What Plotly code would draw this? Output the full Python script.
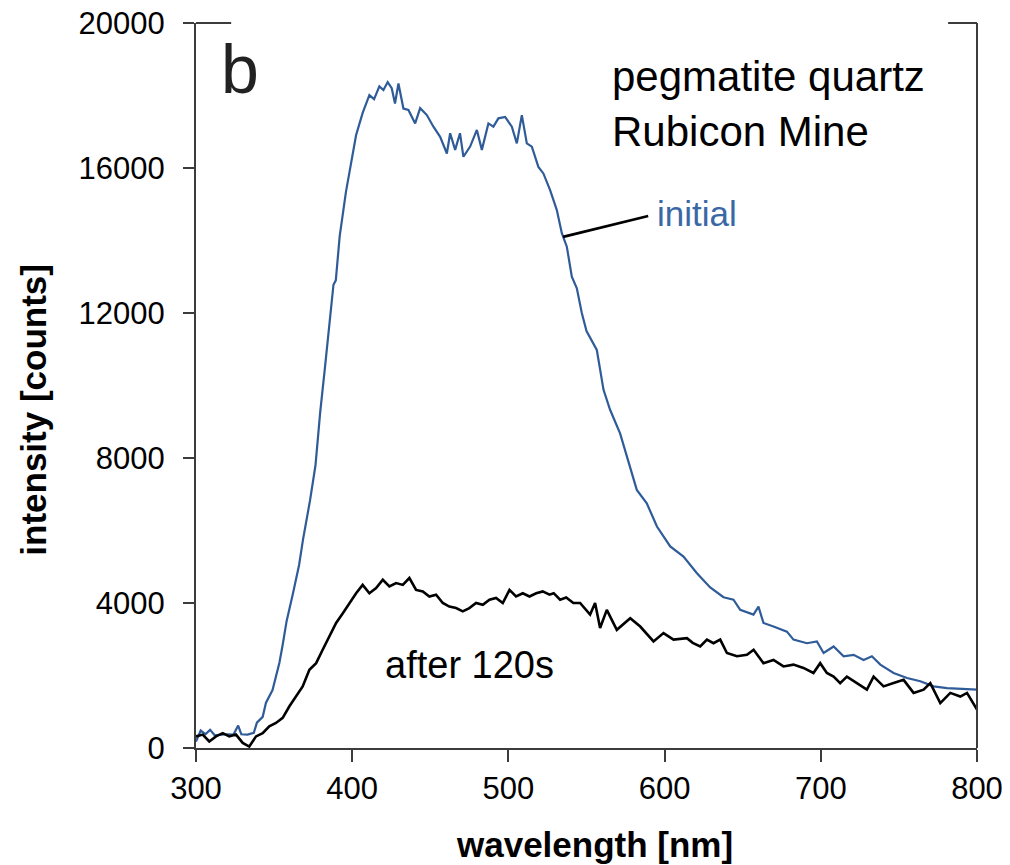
import plotly.graph_objects as go

# ---- data ----
wl_initial = [300, 303, 306, 309, 312, 316, 320, 324, 327, 329, 333, 337, 339, 342.7, 344.8, 349,
              353.4, 355.5, 358, 362, 366, 368.5, 373, 376.5, 379.5, 382.5, 386, 388, 389.5, 392,
              396, 399.5, 402.5, 406.7, 411, 414, 417.4, 420, 422.7, 425.3, 427.4, 429.6, 432.8, 436,
              440.3, 443.5, 447.8, 452, 456.3, 460.6, 462.7, 465.9, 469, 471.2, 475.5, 479.8, 483,
              487.2, 490.4, 493.6, 497.9, 502.2, 505.4, 508.6, 511.8, 515, 519.2, 522.4, 526.7, 531,
              534.2, 537.4, 540.6, 543.8, 547, 550, 556.6, 560.9, 565.1, 571.5, 575.8, 582.2, 588.6,
              595.1, 603.6, 612.1, 620.7, 629.2, 637.7, 644.1, 648.4, 656.9, 660.1, 663.3, 669.7,
              678.3, 682.5, 691.1, 697.5, 701.8, 708.2, 714.6, 721, 727.4, 732.7, 738.1, 746.6,
              755.2, 763.7, 772.2, 780.8, 789.3, 800]
int_initial = [180, 480, 380, 500, 350, 370, 380, 370, 620, 380, 370, 420, 700, 860, 1250, 1600,
               2350, 2850, 3500, 4250, 5050, 5750, 6830, 7800, 9260, 10470, 11930, 12780, 12900, 14120,
               15340, 16190, 16910, 17520, 18010, 17900, 18250, 18150, 18370, 18200, 17780, 18330, 17640, 17600,
               17230, 17650, 17460, 17140, 16860, 16400, 16960, 16500, 16960, 16310, 16590, 17050, 16500,
               17230, 17140, 17370, 17410, 17140, 16680, 17460, 16680, 16590, 16030, 15850, 15390, 14840,
               14200, 13830, 13000, 12680, 12000, 11500, 10980, 9880, 9330, 8680, 8040, 7120, 6750,
               6110, 5560, 5280, 4820, 4430, 4160, 4090, 3810, 3680, 3900, 3450, 3350,
               3210, 2990, 2890, 2940, 2620, 2800, 2530, 2570, 2430, 2530, 2300, 2070,
               1930, 1840, 1700, 1650, 1630, 1610]

wl_after = [300, 304.3, 308.5, 312.8, 317.1, 321.3, 325.6, 329.9, 334.1, 338.4, 342.7, 346.9, 351.2,
            355.5, 359.8, 364, 368.3, 372.6, 376.9, 381.1, 385.4, 389.7, 394, 398.2, 402.5, 406.7,
            411, 415.3, 419.6, 423.8, 428.1, 432.4, 436.6, 440.9, 445.2, 449.4, 453.7, 458, 462.2,
            466.5, 470.8, 475, 479.3, 483.6, 487.9, 492.1, 496.4, 500.7, 504.9, 509.2, 513.5, 517.8,
            522, 526.3, 529, 533.1, 537, 541.6, 545.9, 552.3, 555.5, 558.7, 563, 569.4, 578, 584.4,
            592.9, 599.3, 605.7, 614.3, 618, 622.8, 627.1, 631.3, 635.6, 639.9, 646.3, 652.7, 657,
            663.3, 669.7, 676.1, 682.5, 688.9, 695.3, 699.6, 703.9, 708.2, 712.4, 716.7, 723.1,
            729.5, 733.8, 740.2, 746.6, 753, 759.4, 765.8, 770.1, 776.5, 782.9, 789.3, 793.6,
            797.8, 800]
int_after = [320, 370, 180, 320, 410, 320, 370, 140, 40, 320, 410, 600, 690,
             830, 1150, 1420, 1700, 2160, 2340, 2710, 3080, 3450, 3720, 4000, 4270, 4500,
             4270, 4410, 4640, 4460, 4550, 4500, 4690, 4360, 4320, 4180, 4230, 4000, 3900,
             3860, 3770, 3860, 4000, 3950, 4090, 4140, 4000, 4360, 4180, 4270, 4180, 4270,
             4320, 4230, 4270, 4090, 4150, 4000, 4000, 3680, 4000, 3310, 3810, 3260, 3580, 3350,
             2940, 3170, 2990, 3030, 2900, 2800, 2990, 2890, 2990, 2620, 2530, 2570, 2710,
             2340, 2430, 2250, 2300, 2210, 2070, 2340, 2070, 1970, 1790, 1970, 1790,
             1610, 1970, 1700, 1790, 1880, 1520, 1610, 1790, 1240, 1520, 1420, 1520,
             1240, 1060]

x_ticks = [300, 400, 500, 600, 700, 800]
y_ticks = [0, 4000, 8000, 12000, 16000, 20000]

BLUE = "#2f5c98"
AXC = "#3c3c3c"
FONT = "Liberation Sans, Arial, sans-serif"

fig = go.Figure()
fig.add_trace(go.Scatter(x=wl_initial, y=int_initial, mode="lines",
                         line=dict(color=BLUE, width=2.2), name="initial"))
fig.add_trace(go.Scatter(x=wl_after, y=int_after, mode="lines",
                         line=dict(color="black", width=2.6), name="after 120s"))

fig.update_layout(
    width=1010, height=865,
    margin=dict(l=196, r=33, t=23, b=117),
    paper_bgcolor="white", plot_bgcolor="white",
    showlegend=False,
    font=dict(family=FONT, color="black"),
)
fig.update_xaxes(range=[300, 800], tickvals=x_ticks, showgrid=False, zeroline=False,
                 automargin=False,
                 showline=True, linecolor=AXC, linewidth=2,
                 ticks="outside", ticklen=12, tickwidth=2, tickcolor=AXC,
                 tickfont=dict(size=31, family=FONT, color="black"))
fig.update_yaxes(range=[0, 20000], tickvals=y_ticks, tickformat="d", showgrid=False, zeroline=False,
                 automargin=False, ticklabelstandoff=12,
                 showline=True, linecolor=AXC, linewidth=2,
                 ticks="outside", ticklen=11, tickwidth=2, tickcolor=AXC,
                 tickfont=dict(size=31, family=FONT, color="black"))

# partial frame (top fragments + right side)
for (x0, y0, x1, y1) in [(0, 1, 0.045, 1), (0.963, 1, 1, 1), (1, 0, 1, 1)]:
    fig.add_shape(type="line", xref="paper", yref="paper", x0=x0, y0=y0, x1=x1, y1=y1,
                  line=dict(color=AXC, width=2))

# pointer line to "initial"
fig.add_shape(type="line", xref="x", yref="y", x0=535, y0=14100, x1=589.5, y1=14675,
              line=dict(color="black", width=2.6))

# axis titles
fig.add_annotation(text="<b>wavelength [nm]</b>", xref="paper", yref="paper", x=0.51, y=-0.133,
                   showarrow=False, font=dict(size=35, family=FONT, color="black"),
                   xanchor="center", yanchor="middle")
fig.add_annotation(text="<b>intensity [counts]</b>", xref="paper", yref="paper", x=-0.208, y=0.466,
                   showarrow=False, textangle=-90, font=dict(size=35, family=FONT, color="black"),
                   xanchor="center", yanchor="middle")

# labels
fig.add_annotation(text="b", xref="paper", yref="paper", x=0.030, y=0.936, showarrow=False,
                   font=dict(size=68, family=FONT, color="#222222"), xanchor="left", yanchor="middle")
fig.add_annotation(text="pegmatite quartz<br>Rubicon Mine", xref="paper", yref="paper", x=0.530, y=0.961,
                   showarrow=False, align="left", font=dict(size=42, family=FONT, color="black"),
                   xanchor="left", yanchor="top")
fig.add_annotation(text="initial", xref="paper", yref="paper", x=0.588, y=0.737, showarrow=False,
                   font=dict(size=35, family=FONT, color="#3a68a6"), xanchor="left", yanchor="middle")
fig.add_annotation(text="after 120s", xref="paper", yref="paper", x=0.24, y=0.115, showarrow=False,
                   font=dict(size=38, family=FONT, color="black"), xanchor="left", yanchor="middle")

fig.write_html("out.html")
